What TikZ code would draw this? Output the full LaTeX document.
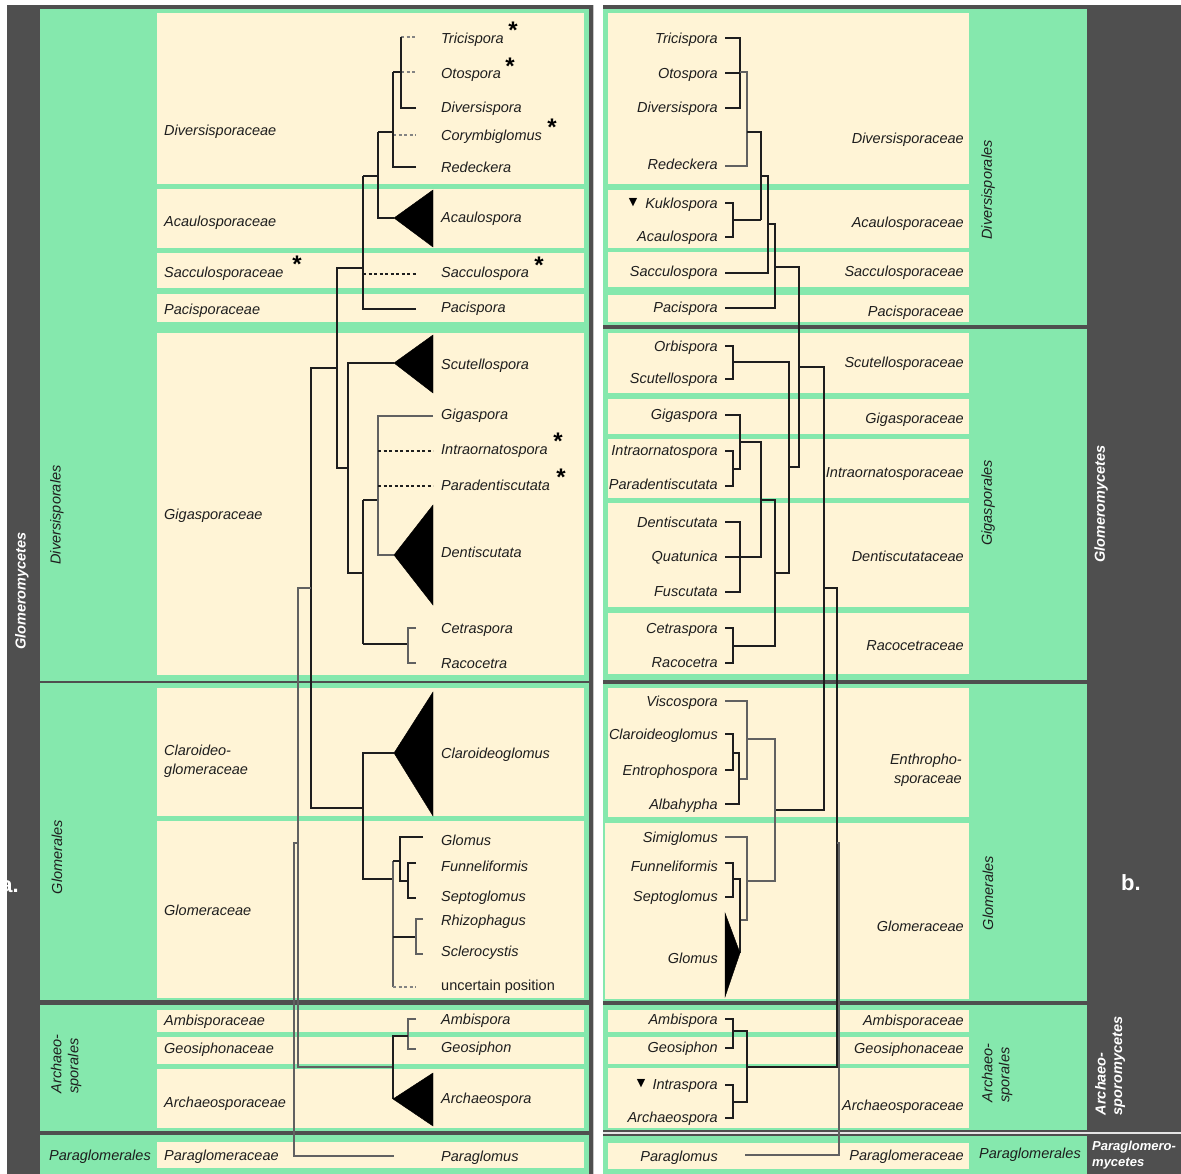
\documentclass[tikz,border=0pt]{standalone}
\usepackage{fontspec}
\setmainfont{Liberation Sans}
\newfontfamily\symfont{DejaVu Sans}
\definecolor{grn}{HTML}{85E8AD}
\definecolor{crm}{HTML}{FFF4D6}
\definecolor{drk}{HTML}{4F4F4F}
\definecolor{ink}{HTML}{1E1E1E}
\tikzset{
  lab/.style={font=\fontsize{14.5}{17}\selectfont\itshape, text=ink, inner sep=0pt, text height=10.5pt, text depth=3pt, yshift=-1.5pt},
  labL/.style={lab, anchor=west},
  labR/.style={lab, anchor=east},
  multi/.style={font=\fontsize{14.5}{19.5}\selectfont\itshape, text=ink, inner sep=0pt},
  rot/.style={font=\fontsize{14.5}{17}\selectfont\itshape, text=ink, inner sep=0pt, rotate=90, align=left},
  cls/.style={font=\fontsize{14.5}{16.5}\selectfont\bfseries\itshape, text=white, inner sep=0pt},
  tr/.style={draw=ink, line width=1.15pt},
  trg/.style={draw=ink!70, line width=1.1pt},
  dsh/.style={draw=ink, line width=1.1pt, dash pattern=on 3pt off 2.5pt},
  dshg/.style={draw=ink!55, line width=1.1pt, dash pattern=on 3pt off 2.5pt},
  tri/.style={fill=black},
  star/.style={font=\fontsize{24}{24}\selectfont\bfseries, text=black, inner sep=0pt, anchor=north},
  symmark/.style={font=\fontsize{11}{11}\selectfont\symfont, text=black, inner sep=0pt}
}
\begin{document}
\begin{tikzpicture}[x=1pt,y=-1pt]
\useasboundingbox (0,0) rectangle (1181,1174);
\fill[white] (0,0) rectangle (1181,1174);
% ---------- left panel background
\fill[drk] (7,5) rectangle (593,1174);
\draw[gray!45, line width=1pt] (593.5,5) -- (593.5,1174);
\fill[grn] (40,9) rectangle (589,681.3);
\fill[grn] (40,683) rectangle (589,1000);
\fill[grn] (40,1005) rectangle (589,1131);
\fill[grn] (40,1135) rectangle (589,1174);
\foreach \a/\b in {13/184,189/248,253/288,294/322,333/675,688/816,821/998,1010/1032,1037/1064,1069/1128,1142/1168}
  \fill[crm] (157,\a) rectangle (584,\b);
% ---------- right panel background
\fill[drk] (603,5) rectangle (1181,1174);
\fill[grn] (603,9) rectangle (1087,325);
\fill[grn] (603,329) rectangle (1087,680);
\fill[grn] (603,684) rectangle (1087,1001);
\fill[grn] (603,1005) rectangle (1087,1130);
\fill[grn] (603,1136) rectangle (1087,1174);
\draw[gray!20, line width=1.3pt] (603,1133) -- (1181,1133);
\foreach \a/\b in {13/184,190/248,252/287,295/322,333/393,399/434,439/498,503/607,613/674,688/817,1010/1032,1037/1064,1068/1128,1143/1169}
  \fill[crm] (608,\a) rectangle (969,\b);
\fill[crm] (605,823) rectangle (969,999);

% ---------- panel letters and class labels
\node[font=\fontsize{22}{22}\selectfont\bfseries, text=white, inner sep=0pt, anchor=east] (pa) at (19,887) {a.};
\node[font=\fontsize{22}{22}\selectfont\bfseries, text=white, inner sep=0pt] (pb) at (1131,883) {b.};
\node[cls, rotate=90] (cGloL) at (22,591) {Glomeromycetes};
\node[cls, rotate=90] (cGloR) at (1101,504) {Glomeromycetes};
\node[cls, rotate=90, align=left] (cArcR) at (1110,1066) {Archaeo-\\sporomycetes};
\node[cls, font=\fontsize{13}{16.5}\selectfont\bfseries\itshape, align=left, anchor=west] (cParR) at (1092,1155) {Paraglomero-\\mycetes};

% ---------- order labels
\node[rot] (oDivL) at (57,515) {Diversisporales};
\node[rot] (oGloL) at (57,857) {Glomerales};
\node[rot] (oArcL) at (66,1064) {Archaeo-\\sporales};
\node[multi] (oParL) at (100,1157) {Paraglomerales};
\node[rot] (oDivR) at (988,190) {Diversisporales};
\node[rot] (oGigR) at (988,503) {Gigasporales};
\node[rot] (oGloR) at (988,893) {Glomerales};
\node[rot] (oArcR) at (997,1073) {Archaeo-\\sporales};
\node[multi] (oParR) at (1030,1155) {Paraglomerales};

% ---------- left family labels
\node[labL] (fl1) at (164,130) {Diversisporaceae};
\node[labL] (fl2) at (164,221) {Acaulosporaceae};
\node[labL] (fl3) at (164,272) {Sacculosporaceae};
\node[labL] (fl4) at (164,309) {Pacisporaceae};
\node[labL] (fl5) at (164,514) {Gigasporaceae};
\node[multi, align=left, anchor=west] (fl6) at (164,761) {Claroideo-\\glomeraceae};
\node[labL] (fl7) at (164,910) {Glomeraceae};
\node[labL] (fl8) at (164,1020) {Ambisporaceae};
\node[labL] (fl9) at (164,1048) {Geosiphonaceae};
\node[labL] (fl10) at (164,1102) {Archaeosporaceae};
\node[labL] (fl11) at (164,1155) {Paraglomeraceae};

% ---------- left genus labels
\node[labL] (gl1) at (441,38) {Tricispora};
\node[labL] (gl2) at (441,73) {Otospora};
\node[labL] (gl3) at (441,107) {Diversispora};
\node[labL] (gl4) at (441,135) {Corymbiglomus};
\node[labL] (gl5) at (441,167) {Redeckera};
\node[labL] (gl6) at (441,217) {Acaulospora};
\node[labL] (gl7) at (441,272) {Sacculospora};
\node[labL] (gl8) at (441,307) {Pacispora};
\node[labL] (gl9) at (441,364) {Scutellospora};
\node[labL] (gl10) at (441,414) {Gigaspora};
\node[labL] (gl11) at (441,449) {Intraornatospora};
\node[labL] (gl12) at (441,485) {Paradentiscutata};
\node[labL] (gl13) at (441,552) {Dentiscutata};
\node[labL] (gl14) at (441,628) {Cetraspora};
\node[labL] (gl15) at (441,663) {Racocetra};
\node[labL] (gl16) at (441,753) {Claroideoglomus};
\node[labL] (gl17) at (441,840) {Glomus};
\node[labL] (gl18) at (441,866) {Funneliformis};
\node[labL] (gl19) at (441,896) {Septoglomus};
\node[labL] (gl20) at (441,920) {Rhizophagus};
\node[labL] (gl21) at (441,951) {Sclerocystis};
\node[labL, font=\fontsize{14.5}{17}\selectfont\upshape] (gl22) at (441,985) {uncertain position};
\node[labL] (gl23) at (441,1019) {Ambispora};
\node[labL] (gl24) at (441,1047) {Geosiphon};
\node[labL] (gl25) at (441,1098) {Archaeospora};
\node[labL] (gl26) at (441,1156) {Paraglomus};

% asterisks
\node[star] (st1) at (513,22) {*};
\node[star] (st2) at (510,58) {*};
\node[star] (st3) at (552,119) {*};
\node[star] (st4) at (297,256) {*};
\node[star] (st5) at (539,257) {*};
\node[star] (st6) at (558,433) {*};
\node[star] (st7) at (561,469) {*};

% ---------- left tree
% Diversisporaceae
\draw[dshg] (401,37) -- (416,37);
\draw[dshg] (401,72) -- (416,72);
\draw[tr] (416,108) -- (401,108) -- (401,37);
\draw[tr] (393,72) -- (401,72);
\draw[dshg] (393,135) -- (416,135);
\draw[tr] (416,167) -- (393,167) -- (393,72);
\draw[tr] (378,132) -- (393,132);
\draw[tr] (394,218) -- (378,218) -- (378,132);
\draw[tri] (394,218) -- (433,190) -- (433,247) -- cycle;
\draw[tr] (363,176) -- (378,176);
\draw[tr] (416,309) -- (363,309) -- (363,176);
\draw[dsh] (363,274) -- (416,274);
\draw[tr] (363,268) -- (337,268) -- (337,468) -- (348,468);
% Gigasporaceae
\draw[tr] (394,363) -- (348,363) -- (348,573) -- (363,573);
\draw[tri] (394,363) -- (433,335) -- (433,393) -- cycle;
\draw[tr] (363,500) -- (363,644);
\draw[tr] (363,500) -- (378,500);
\draw[trg] (433,416) -- (378,416) -- (378,555) -- (394,555);
\draw[dsh] (378,451) -- (433,451);
\draw[dsh] (378,486) -- (433,486);
\draw[tri] (394,555) -- (433,505) -- (433,605) -- cycle;
\draw[tr] (363,644) -- (408,644);
\draw[trg] (416,628) -- (408,628) -- (408,663) -- (416,663);
% backbone
\draw[tr] (337,368) -- (311,368) -- (311,808) -- (363,808);
\draw[trg] (311,588) -- (298,588) -- (298,1067) -- (393,1067);
\draw[trg] (298,843) -- (294,843) -- (294,1156) -- (394,1156);
% Glomerales
\draw[tr] (394,753) -- (363,753) -- (363,879) -- (393,879);
\draw[tri] (394,753) -- (433,692) -- (433,816) -- cycle;
\draw[trg] (393,861) -- (393,987);
\draw[tr] (393,861) -- (400,861);
\draw[tr] (423,837) -- (400,837) -- (400,881) -- (408,881);
\draw[tr] (416,863) -- (408,863) -- (408,898) -- (416,898);
\draw[tr] (393,937) -- (416,937);
\draw[trg] (423,919) -- (416,919) -- (416,954) -- (423,954);
\draw[dshg] (393,987) -- (416,987);
% Archaeosporales
\draw[trg] (416,1019) -- (408,1019) -- (408,1049) -- (416,1049);
\draw[tr] (408,1036) -- (393,1036) -- (393,1099);
\draw[tri] (393,1099) -- (433,1073) -- (433,1126) -- cycle;

% ---------- right family labels
\node[labR] (fr1) at (964,138) {Diversisporaceae};
\node[labR] (fr2) at (964,222) {Acaulosporaceae};
\node[labR] (fr3) at (964,271) {Sacculosporaceae};
\node[labR] (fr4) at (964,311) {Pacisporaceae};
\node[labR] (fr5) at (964,362) {Scutellosporaceae};
\node[labR] (fr6) at (964,418) {Gigasporaceae};
\node[labR] (fr7) at (964,472) {Intraornatosporaceae};
\node[labR] (fr8) at (964,556) {Dentiscutataceae};
\node[labR] (fr9) at (964,645) {Racocetraceae};
\node[multi, align=right, anchor=east] (fr10) at (962,770) {Enthropho-\\sporaceae};
\node[labR] (fr11) at (964,926) {Glomeraceae};
\node[labR] (fr12) at (964,1020) {Ambisporaceae};
\node[labR] (fr13) at (964,1048) {Geosiphonaceae};
\node[labR] (fr14) at (964,1105) {Archaeosporaceae};
\node[labR] (fr15) at (964,1155) {Paraglomeraceae};

% ---------- right genus labels
\node[labR] (gr1) at (718,38) {Tricispora};
\node[labR] (gr2) at (718,73) {Otospora};
\node[labR] (gr3) at (718,107) {Diversispora};
\node[labR] (gr4) at (718,164) {Redeckera};
\node[labR] (gr5) at (718,203) {Kuklospora};
\node[labR] (gr6) at (718,236) {Acaulospora};
\node[labR] (gr7) at (718,271) {Sacculospora};
\node[labR] (gr8) at (718,307) {Pacispora};
\node[labR] (gr9) at (718,346) {Orbispora};
\node[labR] (gr10) at (718,378) {Scutellospora};
\node[labR] (gr11) at (718,414) {Gigaspora};
\node[labR] (gr12) at (718,450) {Intraornatospora};
\node[labR] (gr13) at (718,484) {Paradentiscutata};
\node[labR] (gr14) at (718,522) {Dentiscutata};
\node[labR] (gr15) at (718,556) {Quatunica};
\node[labR] (gr16) at (718,591) {Fuscutata};
\node[labR] (gr17) at (718,628) {Cetraspora};
\node[labR] (gr18) at (718,662) {Racocetra};
\node[labR] (gr19) at (718,701) {Viscospora};
\node[labR] (gr20) at (718,734) {Claroideoglomus};
\node[labR] (gr21) at (718,770) {Entrophospora};
\node[labR] (gr22) at (718,804) {Albahypha};
\node[labR] (gr23) at (718,837) {Simiglomus};
\node[labR] (gr24) at (718,866) {Funneliformis};
\node[labR] (gr25) at (718,896) {Septoglomus};
\node[labR] (gr26) at (718,958) {Glomus};
\node[labR] (gr27) at (718,1019) {Ambispora};
\node[labR] (gr28) at (718,1047) {Geosiphon};
\node[labR] (gr29) at (718,1084) {Intraspora};
\node[labR] (gr30) at (718,1117) {Archaeospora};
\node[labR] (gr31) at (718,1156) {Paraglomus};
\node[symmark] (mk1) at (633,203) {▼};
\node[symmark] (mk2) at (641,1084) {▼};

% ---------- right tree
% Diversisporales
\draw[tr] (725,38) -- (740,38) -- (740,108) -- (725,108);
\draw[tr] (725,73) -- (740,73);
\draw[trg] (740,72) -- (747,72) -- (747,166) -- (725,166);
\draw[tr] (747,132) -- (761,132) -- (761,220);
\draw[tr] (725,203) -- (733,203) -- (733,237) -- (725,237);
\draw[tr] (733,220) -- (761,220);
\draw[tr] (761,176) -- (768,176) -- (768,273) -- (725,273);
\draw[tr] (768,224) -- (775,224) -- (775,308) -- (725,308);
\draw[tr] (775,267) -- (799,267) -- (799,467) -- (789,467);
% Gigasporales
\draw[tr] (725,346) -- (733,346) -- (733,379) -- (725,379);
\draw[tr] (733,362) -- (789,362) -- (789,573) -- (775,573);
\draw[tr] (725,415) -- (740,415) -- (740,469) -- (733,469);
\draw[tr] (725,451) -- (733,451) -- (733,486) -- (725,486);
\draw[tr] (740,442) -- (761,442) -- (761,557) -- (725,557);
\draw[tr] (725,522) -- (740,522) -- (740,592) -- (725,592);
\draw[tr] (761,500) -- (775,500) -- (775,646) -- (733,646);
\draw[tr] (725,628) -- (733,628) -- (733,663) -- (725,663);
% backbone
\draw[tr] (799,367) -- (824,367) -- (824,810) -- (775,810);
\draw[tr] (824,588) -- (837,588) -- (837,1067) -- (747,1067);
\draw[trg] (837,843) -- (839,843) -- (839,1155) -- (745,1155);
% Glomerales
\draw[trg] (725,701) -- (747,701) -- (747,779) -- (739,779);
\draw[tr] (725,734) -- (733,734) -- (733,770) -- (725,770);
\draw[tr] (733,753) -- (739,753) -- (739,804) -- (725,804);
\draw[trg] (747,739) -- (775,739) -- (775,881) -- (747,881);
\draw[trg] (725,837) -- (747,837) -- (747,920) -- (740,920);
\draw[tr] (725,863) -- (733,863) -- (733,897) -- (725,897);
\draw[tr] (733,879) -- (740,879) -- (740,953);
\draw[tri] (725,913) -- (740,953) -- (725,997) -- cycle;
% Archaeosporales
\draw[tr] (725,1019) -- (733,1019) -- (733,1048) -- (725,1048);
\draw[tr] (733,1031) -- (747,1031) -- (747,1102) -- (733,1102);
\draw[tr] (725,1085) -- (733,1085) -- (733,1118) -- (725,1118);
\end{tikzpicture}
\end{document}
